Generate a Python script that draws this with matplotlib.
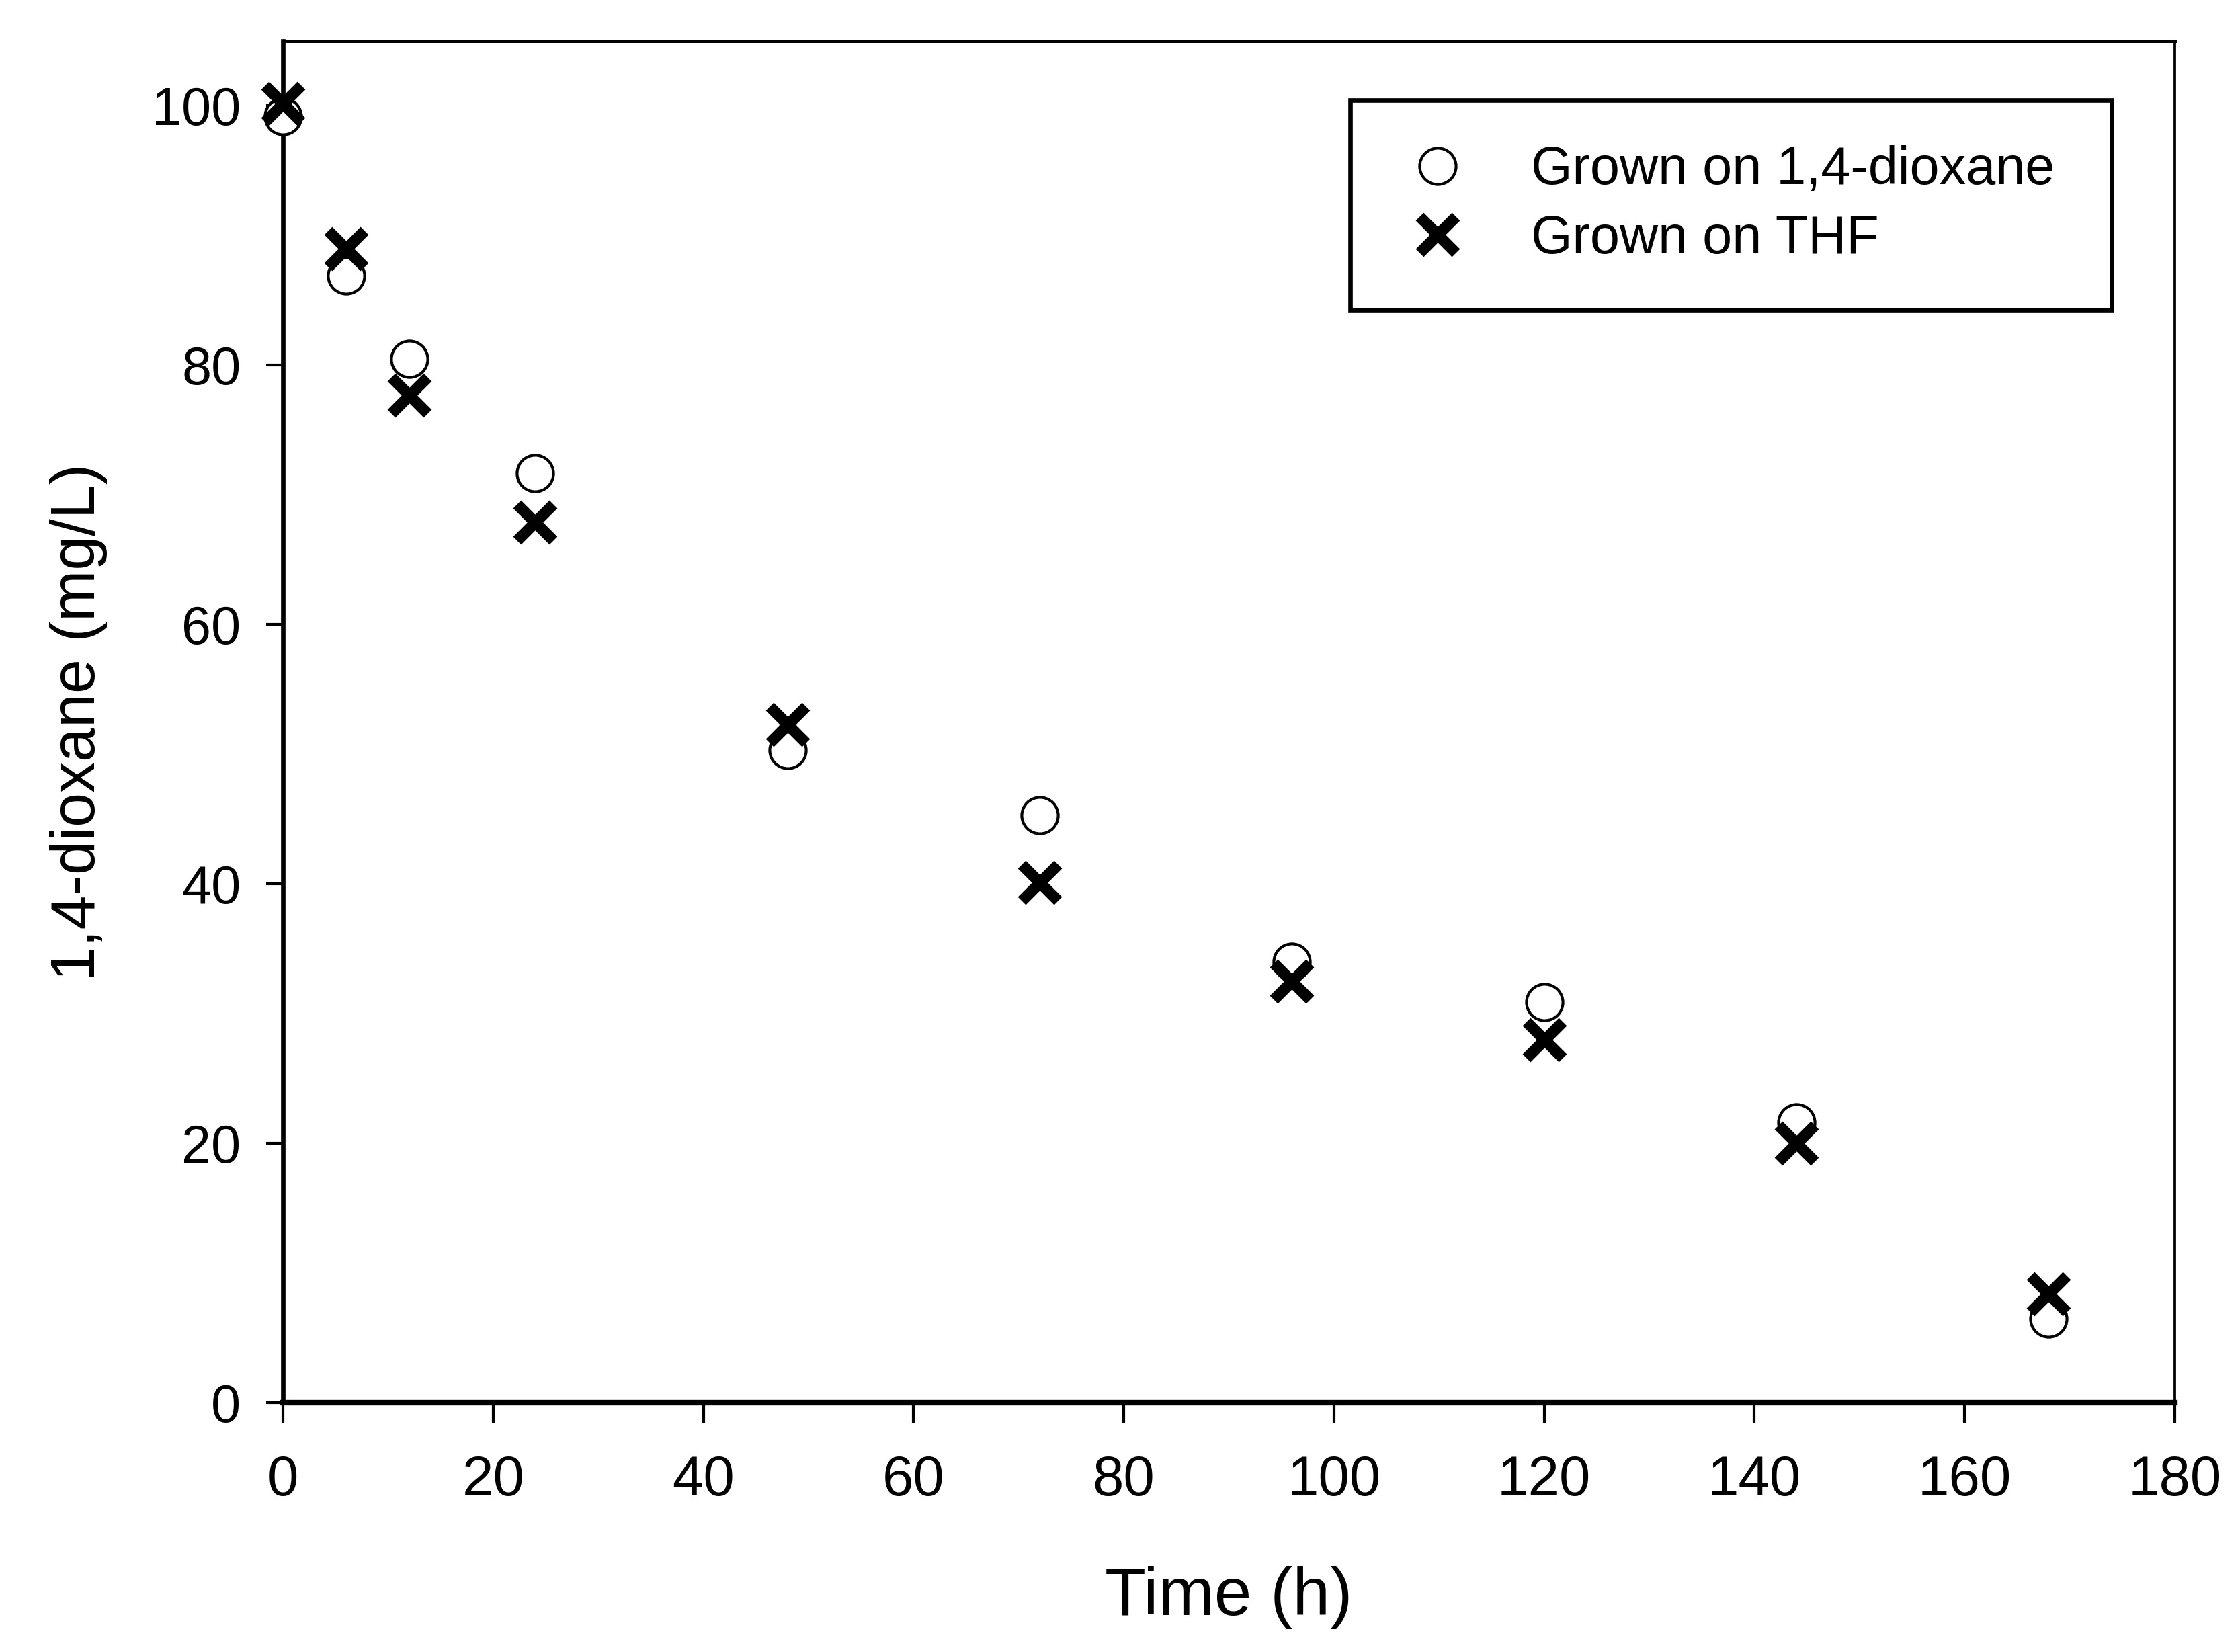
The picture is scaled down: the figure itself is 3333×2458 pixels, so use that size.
import matplotlib
matplotlib.use("Agg")
import matplotlib.pyplot as plt
import numpy as np

# sampling times (h)
time_h = [0, 6, 12, 24, 48, 72, 96, 120, 144, 168]

# 1,4-dioxane remaining (mg/L)
grown_dioxane = [99.2, 86.9, 80.5, 71.7, 50.3, 45.3, 34.0, 30.9, 21.6, 6.5]
grown_thf = [100.2, 89.0, 77.7, 67.9, 52.3, 40.1, 32.5, 28.0, 20.0, 8.4]

labels = ["Grown on 1,4-dioxane", "Grown on THF"]
x_ticks = [0, 20, 40, 60, 80, 100, 120, 140, 160, 180]
y_ticks = [0, 20, 40, 60, 80, 100]

plt.rcParams['font.family'] = ['Liberation Sans', 'DejaVu Sans']

fig = plt.figure(figsize=(3333 / 300, 2458 / 300), dpi=300)
ax = fig.add_axes([0.1263, 0.1509, 0.8446, 0.8243])

ax.plot(time_h, grown_dioxane, linestyle="none", marker="o", ms=13,
        mfc="white", mec="black", mew=1.0, label=labels[0], zorder=3,
        clip_on=False)
ax.plot(time_h, grown_thf, linestyle="none", marker="x", ms=13,
        mec="black", mew=4.0, label=labels[1], zorder=4, clip_on=False)

ax.set_xlim(0, 180)
ax.set_ylim(0, 105)
ax.set_xticks(x_ticks)
ax.set_yticks(y_ticks)

ax.spines["bottom"].set_linewidth(2.0)
ax.spines["left"].set_linewidth(1.6)
ax.spines["top"].set_linewidth(1.2)
ax.spines["right"].set_linewidth(0.9)

ax.tick_params(axis="x", direction="out", length=7.5, width=1.0, pad=11,
               labelsize=20)
ax.tick_params(axis="y", direction="out", length=6, width=1.0, pad=9,
               labelsize=19)

ax.set_xlabel("Time (h)", fontsize=24, labelpad=21)
ax.set_ylabel("1,4-dioxane (mg/L)", fontsize=22, labelpad=16)

leg = ax.legend(loc="upper left", bbox_to_anchor=(0.564, 0.8075, 0.4026, 0.149),
                mode="expand", borderaxespad=0, fontsize=19, fancybox=False,
                framealpha=1, edgecolor="black", borderpad=0.85,
                labelspacing=0.35, handlelength=1.6, handletextpad=0.95)
leg.get_frame().set_linewidth(1.6)

fig.savefig("out.png", dpi=300)
